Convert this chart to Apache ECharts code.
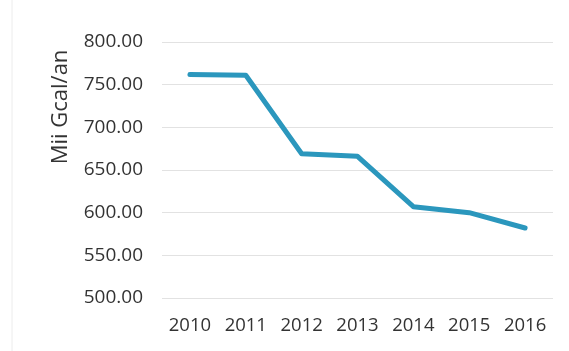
<!DOCTYPE html>
<html>
<head>
<meta charset="utf-8">
<script src="https://cdn.jsdelivr.net/npm/echarts@6/dist/echarts.min.js"></script>
<style>html,body{margin:0;padding:0;background:#fff;}#c{width:569px;height:351px;}</style>
</head>
<body>
<div id="c"></div>
<script>
var years = ['2010','2011','2012','2013','2014','2015','2016'];
var values = [762, 761, 669, 666, 607, 600, 582];
var yTicks = [500, 550, 600, 650, 700, 750, 800];
var yName = 'Mii Gcal/an';

var chart = echarts.init(document.getElementById('c'), null, {renderer: 'canvas'});
chart.setOption({
  backgroundColor: '#ffffff',
  animation: false,
  grid: {left: 162, right: 16, top: 42, bottom: 53},
  xAxis: {
    type: 'category',
    data: years,
    boundaryGap: true,
    axisLine: {show: false},
    axisTick: {show: false},
    axisLabel: {interval: 0, hideOverlap: false, color: '#333333', fontSize: 18.5, fontFamily: 'Open Sans', margin: 18}
  },
  yAxis: {
    type: 'value',
    min: yTicks[0],
    max: yTicks[yTicks.length - 1],
    interval: 50,
    axisLine: {show: false},
    axisTick: {show: false},
    splitLine: {lineStyle: {color: '#e2e2e2', width: 1}},
    axisLabel: {
      color: '#333333', fontSize: 19, fontFamily: 'Open Sans', margin: 19,
      formatter: function (v) { return v.toFixed(2); }
    }
  },
  graphic: [
    {
      type: 'text',
      x: 61, y: 107,
      rotation: Math.PI / 2,
      style: {
        text: yName,
        fill: '#333333',
        fontSize: 22,
        fontFamily: 'Open Sans',
        align: 'center',
        verticalAlign: 'middle'
      }
    },
    {
      type: 'line',
      shape: {x1: 12, y1: 0, x2: 12, y2: 351},
      style: {stroke: '#ececec', lineWidth: 1}
    }
  ],
  series: [{
    type: 'line',
    data: values,
    symbol: 'none',
    lineStyle: {color: '#2b97bd', width: 5, cap: 'round', join: 'round'}
  }]
});
</script>
</body>
</html>
